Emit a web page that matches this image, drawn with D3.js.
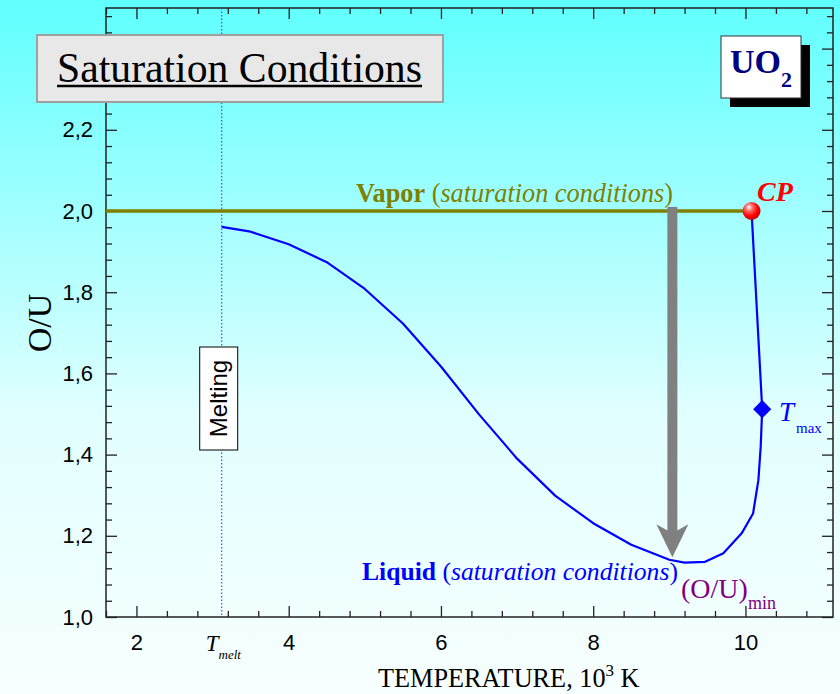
<!DOCTYPE html>
<html>
<head>
<meta charset="utf-8">
<script src="https://cdnjs.cloudflare.com/ajax/libs/d3/7.8.5/d3.min.js"></script>
<style>
	body { margin: 0; }
</style>
</head>
<body>
<div id="chart"></div>
<script>
// UO2 saturation conditions, O/U vs temperature

var liquidT = [3.12, 3.5, 4.0, 4.5, 5.0, 5.5, 6.0, 6.5, 7.0, 7.5, 8.0, 8.5, 9.0, 9.2, 9.47, 9.71, 9.95, 10.1, 10.17, 10.2, 10.22, 10.08];
var liquidOU = [1.961, 1.949, 1.918, 1.874, 1.808, 1.723, 1.617, 1.499, 1.390, 1.299, 1.231, 1.178, 1.141, 1.134, 1.136, 1.157, 1.206, 1.255, 1.337, 1.419, 1.512, 2.0];
var vaporT = [1.6, 10.08];
var vaporOU = [2.0, 2.0];
var cpPoint = [10.08, 2.0];
var tmaxPoint = [10.22, 1.512];
var tMelt = 3.12;
var arrowT = 9.04, arrowFrom = 2.01, arrowTo = 1.147;
var xTicks = [2, 4, 6, 8, 10];
var yTicks = [1.0, 1.2, 1.4, 1.6, 1.8, 2.0, 2.2];

(function() {
	var width = 840,
		height = 694,
		left = 106, right = 833, top = 8, bottom = 617,
		serif = "'Liberation Serif', 'Times New Roman', serif",
		sans = "'Liberation Sans', Arial, sans-serif";

	var x = d3.scaleLinear().domain([1.6, 11.15]).range([left, right]);
	var y = d3.scaleLinear().domain([1.0, 2.5]).range([bottom, top]);

	var svg = d3.select("#chart")
		.append("svg")
		.attr("width", width)
		.attr("height", height);

	var defs = svg.append("defs");
	var bg = defs.append("linearGradient")
		.attr("id", "bg")
		.attr("x1", 0).attr("y1", 0).attr("x2", 0).attr("y2", 1);
	bg.append("stop").attr("offset", "0").attr("stop-color", "#60ffff");
	bg.append("stop").attr("offset", "0.6").attr("stop-color", "#e2ffff");
	bg.append("stop").attr("offset", "1").attr("stop-color", "#f8ffff");

	var ball = defs.append("radialGradient")
		.attr("id", "ball")
		.attr("cx", "0.4").attr("cy", "0.35").attr("r", "0.65")
		.attr("fx", "0.35").attr("fy", "0.28");
	ball.append("stop").attr("offset", "0").attr("stop-color", "#ffffff");
	ball.append("stop").attr("offset", "0.3").attr("stop-color", "#ff7070");
	ball.append("stop").attr("offset", "0.7").attr("stop-color", "#ff0000");
	ball.append("stop").attr("offset", "1").attr("stop-color", "#d00000");

	svg.append("rect")
		.attr("width", width)
		.attr("height", height)
		.attr("fill", "url(#bg)");

	function fitWidth(sel, w) {
		var len = sel.node().getComputedTextLength();
		var fs = parseFloat(sel.attr("font-size"));
		sel.attr("font-size", fs * w / len);
	}

	// ticks
	var yMajor = yTicks.concat([2.4]);
	var xMinor = d3.range(1.6, 11.15, 0.4).filter(function(d) {
		return Math.abs(d / 2 - Math.round(d / 2)) > 0.01;
	});
	var yMinor = d3.range(1.0, 2.5, 0.04).filter(function(d) {
		return Math.abs(d / 0.2 - Math.round(d / 0.2)) > 0.01;
	});
	var comma = function(d) { return d3.format(".1f")(d).replace(".", ","); };

	function drawAxis(axis, tx, ty) {
		var g = svg.append("g")
			.attr("transform", "translate(" + tx + "," + ty + ")")
			.call(axis);
		g.select(".domain").remove();
		g.selectAll("line").attr("stroke", "#222").attr("stroke-width", 1.3);
		return g;
	}

	var gx = drawAxis(d3.axisBottom(x).tickValues(xTicks).tickSize(-11).tickPadding(17).tickFormat(d3.format("d")), 0, bottom);
	drawAxis(d3.axisBottom(x).tickValues(xMinor).tickSize(-6).tickFormat(""), 0, bottom);
	drawAxis(d3.axisTop(x).tickValues(xTicks).tickSize(-11).tickFormat(""), 0, top);
	drawAxis(d3.axisTop(x).tickValues(xMinor).tickSize(-6).tickFormat(""), 0, top);
	var gy = drawAxis(d3.axisLeft(y).tickValues(yTicks).tickSize(-11).tickPadding(13).tickFormat(comma), left, 0);
	drawAxis(d3.axisLeft(y).tickValues([2.4]).tickSize(-11).tickFormat(""), left, 0);
	drawAxis(d3.axisLeft(y).tickValues(yMinor).tickSize(-6).tickFormat(""), left, 0);
	drawAxis(d3.axisRight(y).tickValues(yMajor).tickSize(-11).tickFormat(""), right, 0);
	drawAxis(d3.axisRight(y).tickValues(yMinor).tickSize(-6).tickFormat(""), right, 0);

	gx.selectAll("text").attr("font-family", sans).attr("font-size", 22).attr("fill", "#000");
	gy.selectAll("text").attr("font-family", sans).attr("font-size", 22).attr("fill", "#000");

	svg.append("rect")
		.attr("x", left).attr("y", top)
		.attr("width", right - left).attr("height", bottom - top)
		.attr("fill", "none")
		.attr("stroke", "#222")
		.attr("stroke-width", 1.5);

	// melting line
	svg.append("line")
		.attr("x1", x(tMelt)).attr("x2", x(tMelt))
		.attr("y1", top).attr("y2", bottom)
		.attr("stroke", "#3a50f0")
		.attr("stroke-width", 1.2)
		.attr("stroke-dasharray", "1.5,2");

	svg.append("rect")
		.attr("x", x(tMelt) - 22).attr("y", 347)
		.attr("width", 38).attr("height", 103)
		.attr("fill", "#fff")
		.attr("stroke", "#000");
	svg.append("text")
		.attr("transform", "translate(" + (x(tMelt) - 3) + ",398.5) rotate(-90)")
		.attr("text-anchor", "middle")
		.attr("dominant-baseline", "central")
		.attr("font-family", sans)
		.attr("font-size", 24)
		.text("Melting");

	// T_melt tick label
	var tm = svg.append("text")
		.attr("x", x(tMelt) - 16).attr("y", 651)
		.attr("font-family", serif)
		.attr("font-style", "italic")
		.attr("font-size", 23);
	tm.append("tspan").text("T");
	tm.append("tspan").attr("font-size", 13).attr("dy", 8).text("melt");

	// vapor line
	var line = d3.line()
		.x(function(d) { return x(d[0]); })
		.y(function(d) { return y(d[1]); });

	svg.append("path")
		.datum(d3.zip(vaporT, vaporOU))
		.attr("d", line)
		.attr("fill", "none")
		.attr("stroke", "#808000")
		.attr("stroke-width", 3.5);

	// liquid curve
	svg.append("path")
		.datum(d3.zip(liquidT, liquidOU))
		.attr("d", line)
		.attr("fill", "none")
		.attr("stroke", "#0000ff")
		.attr("stroke-width", 2.2)
		.attr("stroke-linejoin", "round");

	// gray arrow
	var ax = x(arrowT), ay0 = y(arrowFrom), ay1 = y(arrowTo);
	svg.append("rect")
		.attr("x", ax - 5).attr("y", ay0)
		.attr("width", 10).attr("height", ay1 - ay0 - 20)
		.attr("fill", "#808080");
	svg.append("path")
		.attr("d", "M" + ax + "," + ay1 +
			"L" + (ax - 16) + "," + (ay1 - 33) +
			"L" + ax + "," + (ay1 - 24) +
			"L" + (ax + 16) + "," + (ay1 - 33) + "Z")
		.attr("fill", "#808080");

	// Tmax and CP markers
	svg.append("path")
		.attr("d", d3.symbol(d3.symbolSquare, 165)())
		.attr("transform", "translate(" + x(tmaxPoint[0]) + "," + y(tmaxPoint[1]) + ") rotate(45)")
		.attr("fill", "#0000ff");

	svg.append("circle")
		.attr("cx", x(cpPoint[0])).attr("cy", y(cpPoint[1]))
		.attr("r", 9)
		.attr("fill", "url(#ball)");

	svg.append("text")
		.attr("x", 757).attr("y", 201)
		.attr("font-family", serif)
		.attr("font-weight", "bold")
		.attr("font-style", "italic")
		.attr("font-size", 28)
		.attr("fill", "#ff0000")
		.text("CP");

	var tx = svg.append("text")
		.attr("x", 779).attr("y", 421)
		.attr("font-family", serif)
		.attr("font-size", 27)
		.attr("fill", "#0000ff");
	tx.append("tspan").attr("font-style", "italic").text("T");
	tx.append("tspan").attr("font-size", 15).attr("dx", 2).attr("dy", 12).text("max");

	var om = svg.append("text")
		.attr("x", 681).attr("y", 598)
		.attr("font-family", serif)
		.attr("font-size", 28)
		.attr("fill", "#800080");
	om.append("tspan").text("(O/U)");
	om.append("tspan").attr("font-size", 18).attr("dy", 11).text("min");

	// vapor / liquid labels
	var vl = svg.append("text")
		.attr("x", 356).attr("y", 202)
		.attr("font-family", serif)
		.attr("font-size", 25)
		.attr("fill", "#808000");
	vl.append("tspan").attr("font-weight", "bold").text("Vapor");
	vl.append("tspan").text(" (");
	vl.append("tspan").attr("font-style", "italic").text("saturation conditions");
	vl.append("tspan").text(")");
	fitWidth(vl, 317);

	var ll = svg.append("text")
		.attr("x", 362).attr("y", 580)
		.attr("font-family", serif)
		.attr("font-size", 25)
		.attr("fill", "#0000ff");
	ll.append("tspan").attr("font-weight", "bold").text("Liquid");
	ll.append("tspan").text(" (");
	ll.append("tspan").attr("font-style", "italic").text("saturation conditions");
	ll.append("tspan").text(")");
	fitWidth(ll, 316);

	// title box
	svg.append("rect")
		.attr("x", 37).attr("y", 35)
		.attr("width", 406).attr("height", 67)
		.attr("fill", "#e8e8e8")
		.attr("stroke", "#a0a0a0")
		.attr("stroke-width", 2);
	var title = svg.append("text")
		.attr("x", 57).attr("y", 82)
		.attr("font-family", serif)
		.attr("font-size", 38)
		.text("Saturation Conditions");
	fitWidth(title, 365);
	svg.append("line")
		.attr("x1", 57).attr("x2", 422)
		.attr("y1", 86).attr("y2", 86)
		.attr("stroke", "#000")
		.attr("stroke-width", 2.5);

	// UO2 box
	svg.append("rect")
		.attr("x", 730).attr("y", 45)
		.attr("width", 80).attr("height", 62)
		.attr("fill", "#000");
	svg.append("rect")
		.attr("x", 721).attr("y", 36)
		.attr("width", 80).attr("height", 62)
		.attr("fill", "#fff")
		.attr("stroke", "#333");
	var uo = svg.append("text")
		.attr("x", 730).attr("y", 73)
		.attr("font-family", serif)
		.attr("font-weight", "bold")
		.attr("font-size", 34)
		.attr("fill", "#000080");
	uo.append("tspan").text("UO");
	uo.append("tspan").attr("font-size", 22).attr("dy", 14).text("2");

	// axis titles
	svg.append("text")
		.attr("transform", "translate(51,323) rotate(-90)")
		.attr("text-anchor", "middle")
		.attr("font-family", serif)
		.attr("font-size", 34)
		.text("O/U");

	var xt = svg.append("text")
		.attr("x", 378).attr("y", 687)
		.attr("font-family", serif)
		.attr("font-size", 25);
	xt.append("tspan").text("TEMPERATURE, 10");
	xt.append("tspan").attr("font-size", 17).attr("dy", -11).text("3");
	xt.append("tspan").attr("dy", 11).text(" K");
	fitWidth(xt, 262);
})();
</script>
</body>
</html>
